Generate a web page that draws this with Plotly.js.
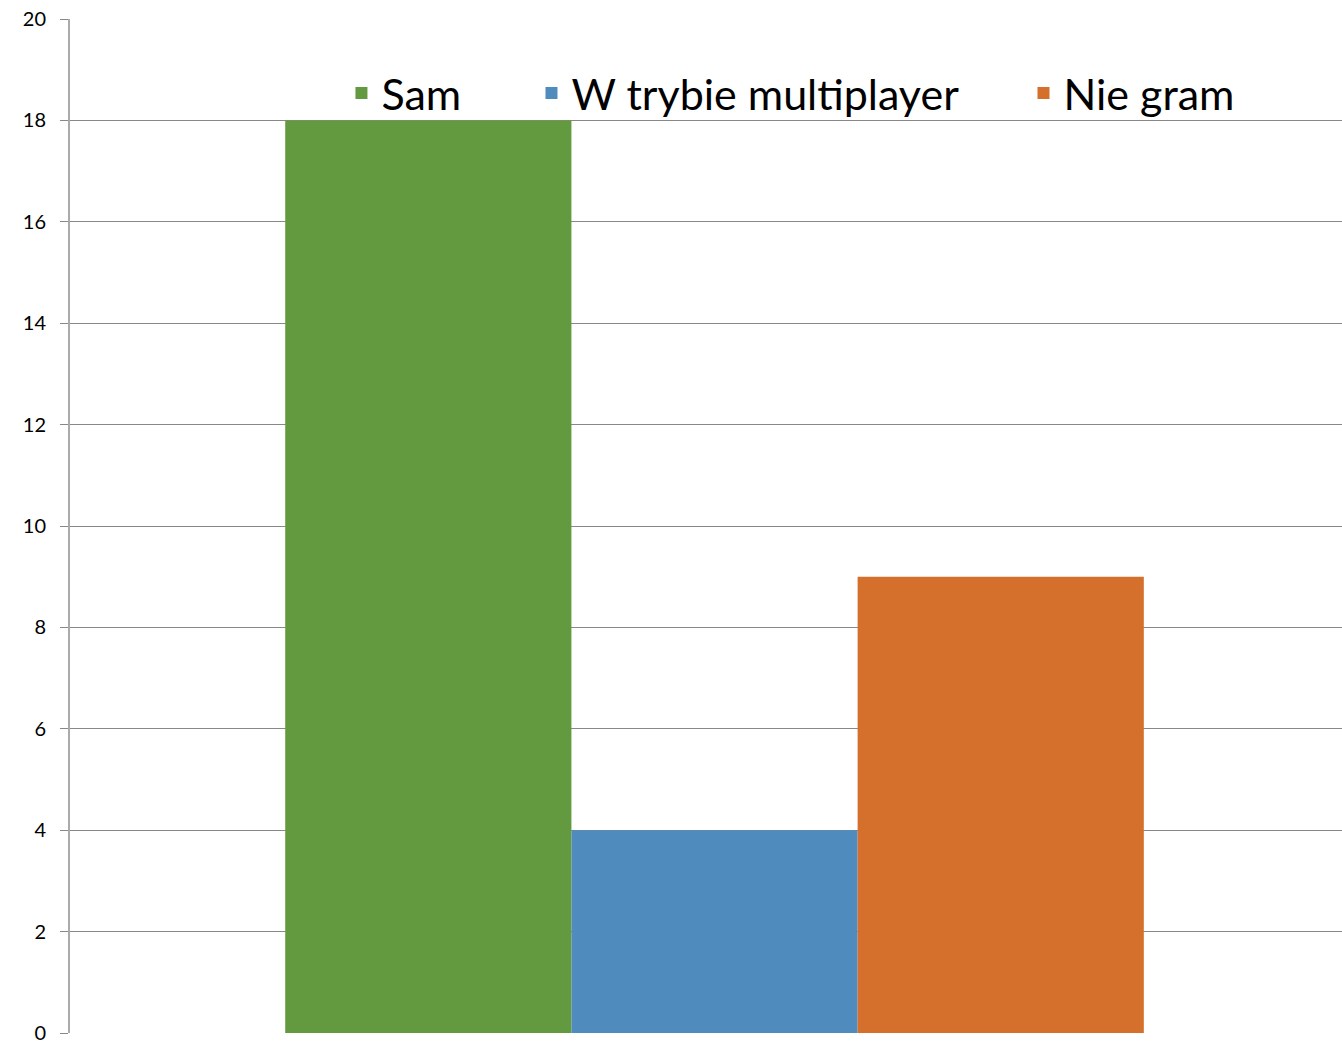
<!DOCTYPE html>
<html>
<head>
<meta charset="utf-8">
<script src="https://cdn.plot.ly/plotly-3.0.1.min.js"></script>
<style>
  html, body { margin: 0; padding: 0; background: #fff; }
  #chart { width: 1342px; height: 1044px; }
</style>
</head>
<body>
<div id="chart"></div>
<script>
// single category, three answers
var category = [''];
var seriesNames = ['Sam', 'W trybie multiplayer', 'Nie gram'];
var seriesValues = [18, 4, 9];
var seriesColors = ['#649a3f', '#4f8bbd', '#d46f2c'];
var yTicks = [0, 2, 4, 6, 8, 10, 12, 14, 16, 18, 20];

// one legend per series so the entries can sit where Excel put them
var legendIds = ['legend', 'legend2', 'legend3'];
var legendX = [0.2134, 0.3628, 0.7496];

var traces = seriesNames.map(function (name, i) {
  return {
    x: category,
    y: [seriesValues[i]],
    name: name,
    type: 'bar',
    legend: legendIds[i],
    marker: { color: seriesColors[i] },
    hoverinfo: 'y+name'
  };
});

var layout = {
  width: 1342,
  height: 1044,
  margin: { l: 70, r: 0, t: 19, b: 11 },
  paper_bgcolor: '#fff',
  plot_bgcolor: '#fff',
  font: { family: 'Lato, "Open Sans", sans-serif', color: '#000' },
  barmode: 'group',
  bargap: 0.325,
  bargroupgap: 0,
  xaxis: {
    range: [-0.5067, 0.4933],
    showticklabels: false,
    showgrid: false,
    zeroline: false,
    fixedrange: true
  },
  yaxis: {
    range: [0, 20],
    tickvals: yTicks,
    ticks: 'outside',
    ticklen: 8,
    tickcolor: '#888',
    tickfont: { size: 20, color: '#000' },
    ticklabelstandoff: 10,
    showline: true,
    linecolor: '#aaa',
    linewidth: 2,
    gridcolor: '#888',
    gridwidth: 1,
    zeroline: false,
    fixedrange: true
  },
  showlegend: true
};

legendIds.forEach(function (id, i) {
  layout[id] = {
    orientation: 'h',
    x: legendX[i],
    xanchor: 'left',
    y: 0.927,
    yanchor: 'middle',
    bgcolor: 'rgba(255,255,255,0)',
    font: { size: 43, color: '#000' }
  };
});

Plotly.newPlot('chart', traces, layout, { displayModeBar: false, staticPlot: true });
</script>
</body>
</html>
